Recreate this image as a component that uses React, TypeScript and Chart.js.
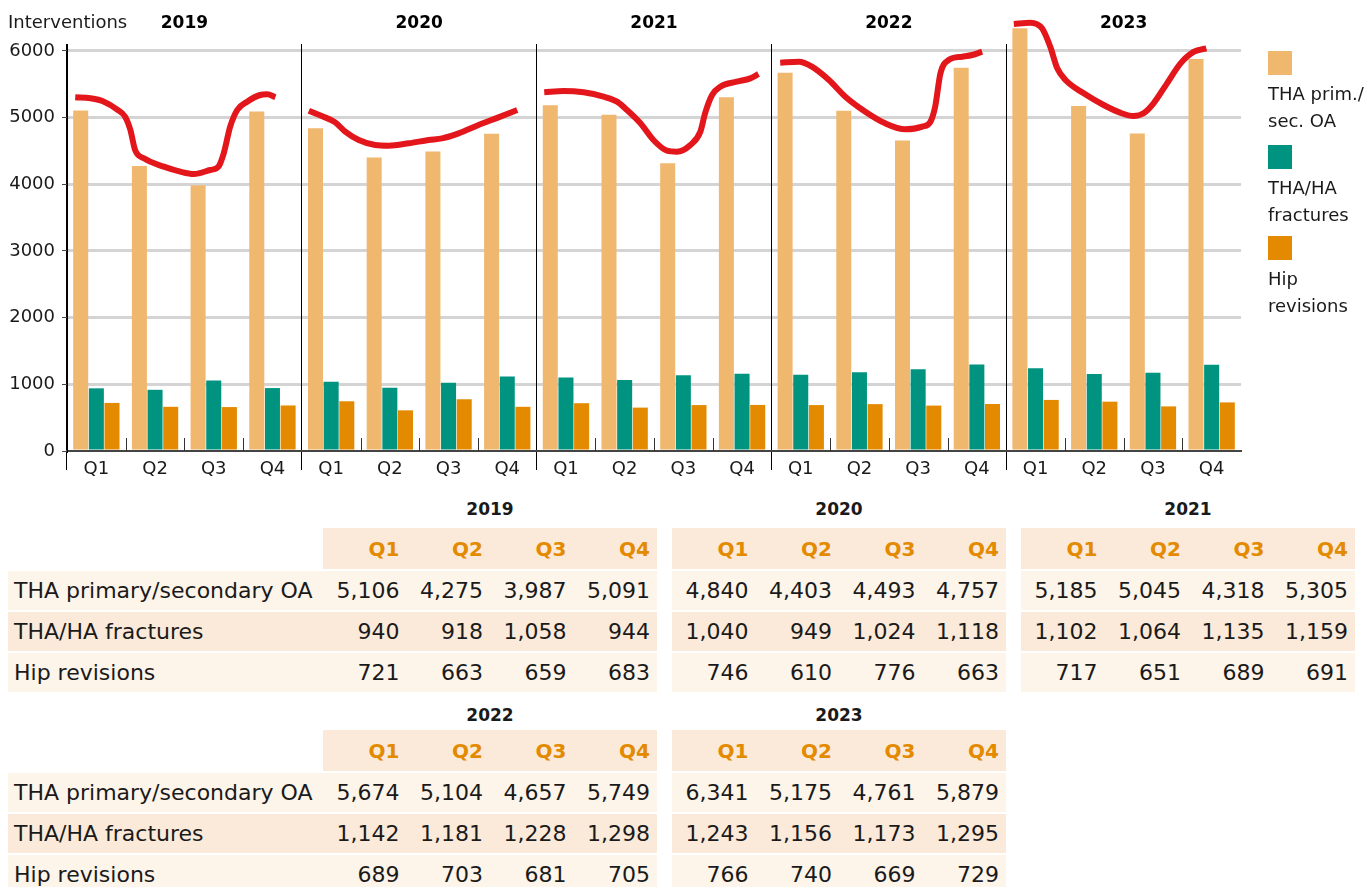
import React, { useEffect, useRef } from 'react';
import { Chart, registerables } from 'chart.js';

Chart.register(...registerables);

// ---------- DATA ----------
const YEARS = ['2019', '2020', '2021', '2022', '2023'];
const QUARTERS = ['Q1', 'Q2', 'Q3', 'Q4'];
const QUARTER_LABELS = YEARS.flatMap(() => QUARTERS);

const THA_OA = [5106, 4275, 3987, 5091, 4840, 4403, 4493, 4757, 5185, 5045, 4318, 5305, 5674, 5104, 4657, 5749, 6341, 5175, 4761, 5879];
const FRACTURES = [940, 918, 1058, 944, 1040, 949, 1024, 1118, 1102, 1064, 1135, 1159, 1142, 1181, 1228, 1298, 1243, 1156, 1173, 1295];
const REVISIONS = [721, 663, 659, 683, 746, 610, 776, 663, 717, 651, 689, 691, 689, 703, 681, 705, 766, 740, 669, 729];

const Y_TICKS = [0, 1000, 2000, 3000, 4000, 5000, 6000];
const Y_MAX = 6105;

// hand-drawn red trend stroke, [quarter position, interventions]
const TREND_2019 = [[0.14, 5306], [0.40, 5290], [0.63, 5240], [0.85, 5125], [0.99, 5015], [1.08, 4815], [1.16, 4515], [1.31, 4390], [1.65, 4265], [1.93, 4190], [2.16, 4155], [2.44, 4215], [2.58, 4265], [2.67, 4465], [2.78, 4865], [2.90, 5115], [3.07, 5240], [3.29, 5340], [3.41, 5350], [3.55, 5306]];
const TREND_2020 = [[4.12, 5105], [4.34, 5025], [4.57, 4930], [4.74, 4790], [4.97, 4665], [5.25, 4590], [5.48, 4580], [5.82, 4615], [6.16, 4665], [6.39, 4690], [6.67, 4765], [7.01, 4890], [7.35, 5005], [7.67, 5115]];
const TREND_2021 = [[8.13, 5380], [8.46, 5400], [8.80, 5380], [9.14, 5315], [9.37, 5240], [9.54, 5115], [9.77, 4915], [9.99, 4665], [10.22, 4505], [10.39, 4490], [10.62, 4590], [10.79, 4790], [10.87, 5065], [10.99, 5340], [11.13, 5465], [11.41, 5540], [11.64, 5590], [11.78, 5655]];
const TREND_2022 = [[12.15, 5825], [12.47, 5840], [12.69, 5765], [12.98, 5565], [13.26, 5315], [13.60, 5090], [13.94, 4915], [14.28, 4825], [14.57, 4865], [14.71, 4940], [14.79, 5165], [14.88, 5665], [15.02, 5865], [15.25, 5915], [15.42, 5940], [15.59, 5990]];
const TREND_2023 = [[16.13, 6405], [16.41, 6425], [16.61, 6340], [16.75, 6065], [16.87, 5740], [17.01, 5565], [17.32, 5365], [17.66, 5190], [17.94, 5075], [18.17, 5025], [18.34, 5065], [18.51, 5215], [18.74, 5515], [18.97, 5815], [19.20, 5990], [19.41, 6040]];
const TRENDS = [TREND_2019, TREND_2020, TREND_2021, TREND_2022, TREND_2023];

const SERIES_LEGEND = [['THA prim./', 'sec. OA'], ['THA/HA', 'fractures'], ['Hip', 'revisions']];
const ROW_LABELS = ['THA primary/secondary OA', 'THA/HA fractures', 'Hip revisions'];
const Y_TITLE = 'Interventions';

// ---------- STYLE ----------
const FONT = '"DejaVu Sans", sans-serif';
const C_LIGHT = '#F0B86F';
const C_TEAL = '#009480';
const C_ORANGE = '#E38A00';
const C_RED = '#E3171B';
const C_TEXT = '#1a1a1a';
const BG_A = '#FBEADA';
const BG_B = '#FDF4EA';

const PAD = { left: 67, right: 127, top: 44, bottom: 39 };

const quarterTicks = {
  id: 'quarterTicks',
  afterDraw(chart: any) {
    const xs = chart.scales.x;
    const area = chart.chartArea;
    const ctx = chart.ctx;
    ctx.save();
    ctx.strokeStyle = '#333';
    ctx.lineWidth = 1;
    for (let i = 1; i < QUARTER_LABELS.length; i++) {
      if (i % 4 === 0) continue;
      const px = Math.round((xs.getPixelForTick(i - 1) + xs.getPixelForTick(i)) / 2) + 0.5;
      ctx.beginPath();
      ctx.moveTo(px, area.bottom - 13);
      ctx.lineTo(px, area.bottom);
      ctx.stroke();
    }
    ctx.restore();
  },
};

const fmt = (v: number) => v.toLocaleString('en-US');

function TableGroup({ yearIdx, top, titleGap }: { yearIdx: number[]; top: number; titleGap: number }) {
  const series = [THA_OA, FRACTURES, REVISIONS];
  const blockLeft = (k: number) => 323 + k * 349;
  const blockW = 334;
  const titleH = 30;
  const headTop = top + titleH + titleGap;
  const headH = 41;
  const rowH = 39;
  const gap = 2;
  const cell: React.CSSProperties = {
    position: 'absolute',
    display: 'flex',
    alignItems: 'center',
    boxSizing: 'border-box',
  };
  const out: React.ReactNode[] = [];
  yearIdx.forEach((y, k) => {
    const left = blockLeft(k);
    out.push(
      <div key={'t' + y} style={{ ...cell, left, top, width: blockW, height: titleH, justifyContent: 'center', fontWeight: 'bold', fontSize: 17 }}>
        {YEARS[y]}
      </div>
    );
    out.push(
      <div key={'h' + y} style={{ ...cell, left, top: headTop, width: blockW, height: headH, background: BG_A }}>
        {QUARTERS.map((q) => (
          <div key={q} style={{ width: blockW / 4, textAlign: 'right', paddingRight: 7, boxSizing: 'border-box', color: C_ORANGE, fontWeight: 'bold', fontSize: 20 }}>
            {q}
          </div>
        ))}
      </div>
    );
    series.forEach((s, r) => {
      const rt = headTop + headH + gap + r * (rowH + gap);
      const bg = r === 1 ? BG_A : BG_B;
      out.push(
        <div key={'r' + y + '-' + r} style={{ ...cell, left: k === 0 ? 8 : left, top: rt, width: k === 0 ? blockW + 315 : blockW, height: rowH, background: bg }}>
          {k === 0 && <div style={{ width: 315, paddingLeft: 6, boxSizing: 'border-box', whiteSpace: 'nowrap' }}>{ROW_LABELS[r]}</div>}
          {QUARTERS.map((q, qi) => (
            <div key={q} style={{ width: blockW / 4, textAlign: 'right', paddingRight: 7, boxSizing: 'border-box', whiteSpace: 'nowrap' }}>
              {fmt(s[y * 4 + qi])}
            </div>
          ))}
        </div>
      );
    });
  });
  return <>{out}</>;
}

export default function App() {
  const ref = useRef<HTMLCanvasElement>(null);
  const refTrend = useRef<HTMLCanvasElement>(null);

  useEffect(() => {
    document.body.style.margin = '0';
    const barBase = { categoryPercentage: 0.8, barPercentage: 0.96, clip: false as any, borderWidth: 0 };
    const chart = new Chart(ref.current!, {
      type: 'bar',
      data: {
        labels: QUARTER_LABELS,
        datasets: [
          { ...barBase, label: 'THA prim./sec. OA', data: THA_OA, backgroundColor: C_LIGHT },
          { ...barBase, label: 'THA/HA fractures', data: FRACTURES, backgroundColor: C_TEAL },
          { ...barBase, label: 'Hip revisions', data: REVISIONS, backgroundColor: C_ORANGE },
        ] as any,
      },
      options: {
        responsive: false,
        animation: false,
        devicePixelRatio: 1,
        layout: { padding: { left: 0, right: PAD.right, top: 0, bottom: 0 } },
        plugins: { legend: { display: false }, tooltip: { enabled: false } },
        scales: {
          x: {
            type: 'category',
            position: 'bottom',
            z: 1,
            offset: true,
            grid: {
              offset: true,
              display: true,
              drawOnChartArea: true,
              drawTicks: true,
              tickLength: 19,
              lineWidth: 1,
              color: (c: any) => (c.index % 4 === 0 ? '#000' : 'rgba(0,0,0,0)'),
              tickColor: (c: any) => (c.index % 4 === 0 ? '#000' : 'rgba(0,0,0,0)'),
            },
            border: { display: true, color: '#444', width: 2 },
            ticks: { color: C_TEXT, font: { family: FONT, size: 18 }, padding: -11, maxRotation: 0, autoSkip: false },
            afterFit: (s: any) => { s.height = PAD.bottom; },
          },
          xTop: {
            type: 'category',
            position: 'top',
            labels: YEARS,
            offset: true,
            grid: { display: false, drawTicks: false },
            border: { display: false },
            ticks: { color: '#000', font: { family: FONT, size: 17, weight: 'bold' }, padding: 10, maxRotation: 0 },
            afterFit: (s: any) => { s.height = PAD.top; },
          },
          y: {
            type: 'linear',
            position: 'left',
            min: 0,
            max: Y_MAX,
            z: 1,
            afterBuildTicks: (s: any) => { s.ticks = Y_TICKS.map((v) => ({ value: v })); },
            grid: {
              color: (c: any) => (c.tick && c.tick.value === 0 ? 'rgba(0,0,0,0)' : 'rgba(0,0,0,0.17)'),
              lineWidth: 3,
              drawTicks: true,
              tickLength: 5,
              tickWidth: 1,
              tickColor: '#444',
            },
            border: { display: true, color: '#000', width: 1 },
            ticks: { color: C_TEXT, font: { family: FONT, size: 18 }, padding: 7, callback: (v: any) => String(v) },
            afterFit: (s: any) => { s.width = PAD.left; },
          },
        },
      } as any,
      plugins: [quarterTicks],
    });

    // red hand-drawn trend, overlaid on the same plot area
    const trend = new Chart(refTrend.current!, {
      type: 'line',
      data: {
        datasets: TRENDS.map((t) => ({
          data: t.map(([x, y]) => ({ x, y })),
          borderColor: C_RED,
          borderWidth: 6,
          pointRadius: 0,
          cubicInterpolationMode: 'monotone' as const,
          borderCapStyle: 'butt' as const,
          borderJoinStyle: 'round' as const,
          fill: false,
          clip: false as any,
        })) as any,
      },
      options: {
        responsive: false,
        animation: false,
        devicePixelRatio: 1,
        layout: { padding: PAD },
        plugins: { legend: { display: false }, tooltip: { enabled: false } },
        scales: {
          x: { type: 'linear', display: false, min: 0, max: QUARTER_LABELS.length, offset: false },
          y: { type: 'linear', display: false, min: 0, max: Y_MAX },
        },
      } as any,
    });
    return () => { chart.destroy(); trend.destroy(); };
  }, []);

  const canvasStyle: React.CSSProperties = { position: 'absolute', left: 0, top: 0, width: 1368, height: 490 };

  return (
    <div style={{ position: 'relative', width: 1368, height: 887, overflow: 'hidden', fontFamily: FONT, color: C_TEXT, fontSize: 22 }}>
      <canvas ref={ref} width={1368} height={490} style={canvasStyle} />
      <canvas ref={refTrend} width={1368} height={490} style={canvasStyle} />
      <div style={{ position: 'absolute', left: 8, top: 10, fontSize: 18, lineHeight: '24px' }}>{Y_TITLE}</div>
      {SERIES_LEGEND.map((lines, i) => {
        const tops = [51, 145, 236];
        const colors = [C_LIGHT, C_TEAL, C_ORANGE];
        return (
          <React.Fragment key={i}>
            <div style={{ position: 'absolute', left: 1268, top: tops[i], width: 24, height: 24, background: colors[i] }} />
            <div style={{ position: 'absolute', left: 1268, top: tops[i] + 29, fontSize: 18, lineHeight: '27px', whiteSpace: 'nowrap' }}>
              {lines.map((l, j) => (<div key={j}>{l}</div>))}
            </div>
          </React.Fragment>
        );
      })}
      <TableGroup yearIdx={[0, 1, 2]} top={494} titleGap={4} />
      <TableGroup yearIdx={[3, 4]} top={700} titleGap={0} />
    </div>
  );
}
